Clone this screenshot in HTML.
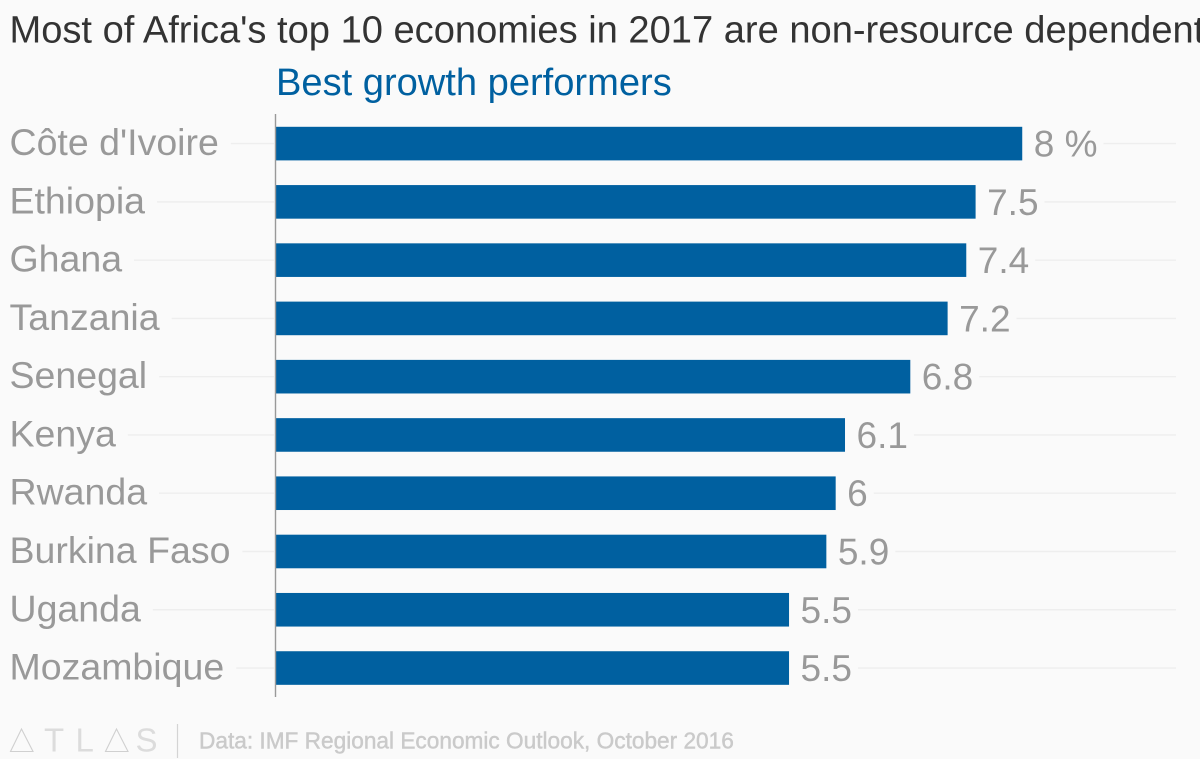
<!DOCTYPE html>
<html lang="en">
<head>
<meta charset="utf-8">
<title>Most of Africa's top 10 economies in 2017</title>
<style>
html,body{margin:0;padding:0;background:#fafafa;width:1200px;height:759px;overflow:hidden}
svg{display:block}
text{font-family:"Liberation Sans",Arial,sans-serif}
</style>
</head>
<body>
<svg id="chart" width="1200" height="759" viewBox="0 0 1200 759" xmlns="http://www.w3.org/2000/svg">
<rect x="0" y="0" width="1200" height="759" fill="#fafafa"/>
<text x="9.5" y="42.5" font-size="38.1" fill="#333333">Most of Africa's top 10 economies in 2017 are non-resource dependent</text>
<text x="276" y="95" font-size="38.1" fill="#0060a0">Best growth performers</text>
<g id="grid"></g>
<g id="bars"></g>
<g id="labels"></g>
<g id="values"></g>
<line x1="275.5" y1="114" x2="275.5" y2="697" stroke="#999999" stroke-width="1.4"/>
<g fill="none" stroke="#d0d0d0" stroke-width="1.1">
<path d="M21.5 729 L10.5 751.5 L33 751.5 Z"/>
<path d="M116.5 729 L105.5 751.5 L128 751.5 Z"/>
<text x="44" y="751.5" font-size="33" fill="#dcdcdc" stroke="none">T</text>
<text x="75.5" y="751.5" font-size="33" fill="#dcdcdc" stroke="none">L</text>
<text x="135.5" y="751.5" font-size="33" fill="#dcdcdc" stroke="none">S</text>
</g>
<line x1="177.5" y1="724" x2="177.5" y2="758" stroke="#d4d4d4" stroke-width="1.2"/>
<text x="199" y="748.5" font-size="22.65" fill="#cacaca" stroke="#cacaca" stroke-width="0.45">Data: IMF Regional Economic Outlook, October 2016</text>
</svg>
<script>
const categories = ["Côte d'Ivoire", "Ethiopia", "Ghana", "Tanzania", "Senegal", "Kenya", "Rwanda", "Burkina Faso", "Uganda", "Mozambique"];
const growthValues = [8, 7.5, 7.4, 7.2, 6.8, 6.1, 6, 5.9, 5.5, 5.5];
const valueLabels = ["8 %", "7.5", "7.4", "7.2", "6.8", "6.1", "6", "5.9", "5.5", "5.5"];

const NS = "http://www.w3.org/2000/svg";
const plotLeft = 276;
const unitWidth = 93.28;
const firstCenter = 143.6;
const rowStep = 58.27;
const barHeight = 33.6;
const gridRight = 1176;

function xScale(v) {
  return plotLeft + v * unitWidth;
}
function yScale(i) {
  return firstCenter + i * rowStep;
}
function svgEl(tag, attrs) {
  const el = document.createElementNS(NS, tag);
  for (const k in attrs) el.setAttribute(k, attrs[k]);
  return el;
}

const gridG = document.getElementById("grid");
const barsG = document.getElementById("bars");
const labelsG = document.getElementById("labels");
const valuesG = document.getElementById("values");

categories.forEach(function (name, i) {
  const cy = yScale(i);
  const xEnd = xScale(growthValues[i]);

  const label = svgEl("text", { x: 9.5, y: cy + 11.5, "font-size": 37.5, fill: "#999999" });
  
  
  label.textContent = name;
  labelsG.appendChild(label);

  const val = svgEl("text", { x: xEnd + 11.5, y: cy + 13, "font-size": 37, fill: "#999999" });
  
  
  val.textContent = valueLabels[i];
  valuesG.appendChild(val);

  const bar = svgEl("rect", { x: plotLeft, y: cy - barHeight / 2, width: xEnd - plotLeft, height: barHeight, fill: "#0060a0" });
  
  
  barsG.appendChild(bar);

  const leftGrid = svgEl("line", { x1: 9.5 + label.getComputedTextLength() + 12, y1: cy, x2: plotLeft - 2, y2: cy, stroke: "#eeeeee", "stroke-width": 1.4 });
  
  
  gridG.appendChild(leftGrid);

  const rightGrid = svgEl("line", { x1: xEnd + 11.5 + val.getComputedTextLength() + 6, y1: cy, x2: gridRight, y2: cy, stroke: "#eeeeee", "stroke-width": 1.4 });
  
  
  gridG.appendChild(rightGrid);
});
</script>
</body>
</html>
